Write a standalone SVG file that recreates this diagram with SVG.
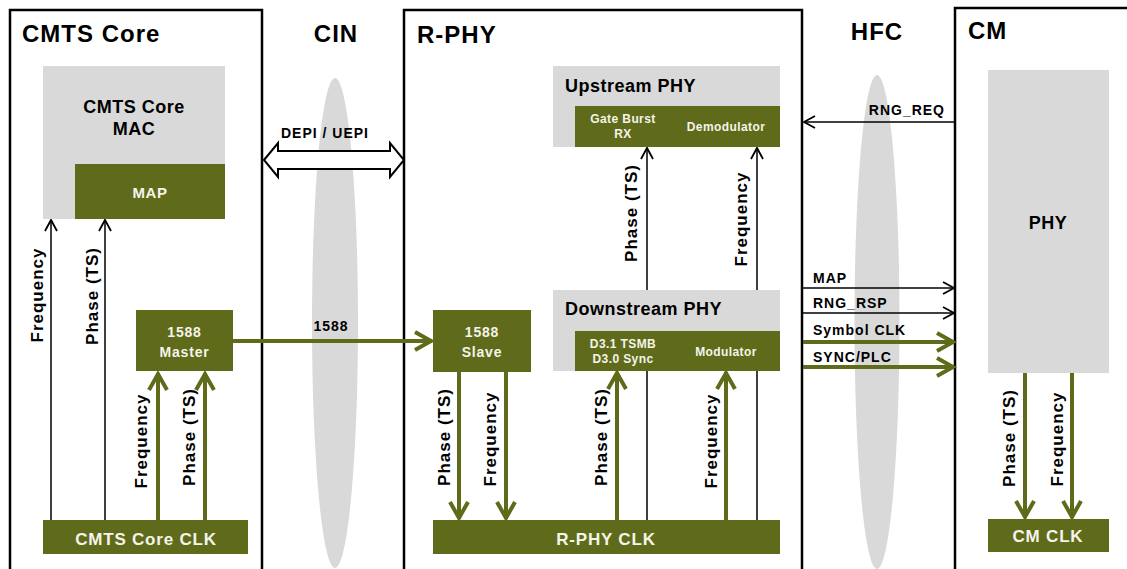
<svg xmlns="http://www.w3.org/2000/svg" width="1127" height="569" viewBox="0 0 1127 569">
<style>
  text { font-family: "Liberation Sans", Arial, sans-serif; font-weight: bold; }
  .title { font-size: 24px; fill: #000; letter-spacing: 1px; }
  .frame { fill: none; stroke: #000; stroke-width: 2.5; }
  .grey { fill: #d9d9d9; }
  .green { fill: #5f6b1a; }
  .wt { fill: #f4f4ea; text-anchor: middle; }
  .sub { font-size: 18px; fill: #000; letter-spacing: 0.5px; }
  .rot { font-size: 17px; fill: #000; letter-spacing: 1px; text-anchor: middle; }
  .lbl { font-size: 14px; fill: #000; letter-spacing: 1px; }
  .thin { stroke: #000; stroke-width: 1.5; fill: none; marker-end: url(#ah); }
  .thick { stroke: #5f6b1a; stroke-width: 4; fill: none; marker-end: url(#gh); }
</style>
<defs>
  <marker id="ah" markerUnits="userSpaceOnUse" viewBox="-13 -8 15 16" refX="0" refY="0" markerWidth="15" markerHeight="16" orient="auto" overflow="visible">
    <path d="M -11 -6 L 0 0 L -11 6" fill="none" stroke="#000" stroke-width="1.8"/>
  </marker>
  <marker id="gh" markerUnits="userSpaceOnUse" viewBox="-20 -11 22 22" refX="0" refY="0" markerWidth="22" markerHeight="22" orient="auto" overflow="visible">
    <path d="M -17 -9 L -1 0 L -17 9" fill="none" stroke="#5f6b1a" stroke-width="4"/>
  </marker>
</defs>

<rect width="1127" height="569" fill="#fff"/>

<!-- network clouds -->
<g id="cin-cloud"><ellipse cx="335" cy="323" rx="23" ry="245" class="grey"/></g>
<g id="hfc-cloud"><ellipse cx="877" cy="322" rx="22.5" ry="247" class="grey"/></g>

<!-- frames -->
<g id="cmts-core">
  <rect x="10" y="10" width="252" height="600" class="frame"/>
  <text x="22" y="42" class="title">CMTS Core</text>
</g>
<g id="cin"><text x="336" y="42" class="title" text-anchor="middle">CIN</text></g>
<g id="r-phy">
  <rect x="404" y="10" width="398" height="600" class="frame"/>
  <text x="417" y="43" class="title">R-PHY</text>
</g>
<g id="hfc"><text x="877" y="40" class="title" text-anchor="middle">HFC</text></g>
<g id="cm">
  <rect x="955" y="8" width="200" height="600" class="frame"/>
  <text x="968" y="39" class="title">CM</text>
</g>

<!-- connectors (drawn under boxes where they pass behind) -->
<g id="connectors">
  <line x1="51" y1="520" x2="51" y2="220" class="thin"/>
  <line x1="105" y1="520" x2="105" y2="220" class="thin"/>
  <line x1="158" y1="520" x2="158" y2="373" class="thick"/>
  <line x1="205" y1="520" x2="205" y2="373" class="thick"/>
  <line x1="233" y1="341" x2="432" y2="341" class="thick"/>
  <path d="M 264 160 L 278 143 L 278 151 L 390 151 L 390 143 L 404 160 L 390 177 L 390 169 L 278 169 L 278 177 Z" fill="#fff" stroke="#000" stroke-width="2"/>
  <line x1="459" y1="372" x2="459" y2="519" class="thick"/>
  <line x1="506" y1="372" x2="506" y2="519" class="thick"/>
  <line x1="647" y1="520" x2="647" y2="148" class="thin"/>
  <line x1="757" y1="520" x2="757" y2="148" class="thin"/>
  <line x1="617" y1="520" x2="617" y2="372" class="thick"/>
  <line x1="726" y1="520" x2="726" y2="372" class="thick"/>
  <line x1="955" y1="122" x2="804" y2="122" class="thin"/>
  <line x1="803" y1="288" x2="954" y2="288" class="thin"/>
  <line x1="803" y1="313" x2="954" y2="313" class="thin"/>
  <line x1="803" y1="342" x2="954" y2="342" class="thick"/>
  <line x1="803" y1="367" x2="954" y2="367" class="thick"/>
  <line x1="1025" y1="373" x2="1025" y2="518" class="thick"/>
  <line x1="1072" y1="373" x2="1072" y2="518" class="thick"/>

  <text x="325" y="138" class="lbl" text-anchor="middle" letter-spacing="0">DEPI / UEPI</text>
  <text x="331" y="331" class="lbl" text-anchor="middle" letter-spacing="0.5">1588</text>
  <text x="945" y="115" class="lbl" text-anchor="end">RNG_REQ</text>
  <text x="813" y="283" class="lbl">MAP</text>
  <text x="813" y="308" class="lbl">RNG_RSP</text>
  <text x="813" y="335" class="lbl">Symbol CLK</text>
  <text x="813" y="362" class="lbl">SYNC/PLC</text>

  <text transform="translate(43,295) rotate(-90)" class="rot">Frequency</text>
  <text transform="translate(98,296) rotate(-90)" class="rot">Phase (TS)</text>
  <text transform="translate(147,441) rotate(-90)" class="rot">Frequency</text>
  <text transform="translate(195,437) rotate(-90)" class="rot">Phase (TS)</text>
  <text transform="translate(637,213) rotate(-90)" class="rot">Phase (TS)</text>
  <text transform="translate(747,219) rotate(-90)" class="rot">Frequency</text>
  <text transform="translate(450,437) rotate(-90)" class="rot">Phase (TS)</text>
  <text transform="translate(496,439) rotate(-90)" class="rot">Frequency</text>
  <text transform="translate(607,437) rotate(-90)" class="rot">Phase (TS)</text>
  <text transform="translate(717,441) rotate(-90)" class="rot">Frequency</text>
  <text transform="translate(1015,438) rotate(-90)" class="rot">Phase (TS)</text>
  <text transform="translate(1063,439) rotate(-90)" class="rot">Frequency</text>
</g>

<!-- CMTS Core nodes -->
<g id="cmts-core-mac">
  <rect x="43" y="66" width="182" height="153" class="grey"/>
  <text x="134" y="113" class="sub" text-anchor="middle">CMTS Core</text>
  <text x="134" y="135" class="sub" text-anchor="middle">MAC</text>
</g>
<g id="map">
  <rect x="75" y="164" width="150" height="55" class="green"/>
  <text x="150" y="198" class="wt" font-size="15" letter-spacing="0.5">MAP</text>
</g>
<g id="master-1588">
  <rect x="136" y="310" width="97" height="61" class="green"/>
  <text x="184.5" y="337" class="wt" font-size="14" letter-spacing="0.8">1588</text>
  <text x="184.5" y="357" class="wt" font-size="14" letter-spacing="0.8">Master</text>
</g>
<g id="cmts-core-clk">
  <rect x="43" y="520" width="205" height="34" class="green"/>
  <text x="146" y="545" class="wt" font-size="17" letter-spacing="0.8">CMTS Core CLK</text>
</g>

<!-- R-PHY nodes -->
<g id="slave-1588">
  <rect x="433" y="310" width="98" height="62" class="green"/>
  <text x="482" y="337" class="wt" font-size="14" letter-spacing="0.8">1588</text>
  <text x="482" y="357" class="wt" font-size="14" letter-spacing="0.8">Slave</text>
</g>
<g id="upstream-phy">
  <rect x="553" y="66" width="227" height="81" class="grey"/>
  <text x="565" y="92" class="sub">Upstream PHY</text>
  <rect x="575" y="106" width="205" height="41" class="green"/>
  <text x="623" y="123" class="wt" font-size="12" letter-spacing="0.4">Gate Burst</text>
  <text x="623" y="138" class="wt" font-size="12" letter-spacing="0.4">RX</text>
  <text x="726" y="131" class="wt" font-size="12" letter-spacing="0.4">Demodulator</text>
</g>
<g id="downstream-phy">
  <rect x="553" y="290" width="227" height="81" class="grey"/>
  <text x="565" y="315" class="sub">Downstream PHY</text>
  <rect x="575" y="331" width="205" height="40" class="green"/>
  <text x="623" y="348" class="wt" font-size="12" letter-spacing="0.4">D3.1 TSMB</text>
  <text x="623" y="363" class="wt" font-size="12" letter-spacing="0.4">D3.0 Sync</text>
  <text x="726" y="356" class="wt" font-size="12" letter-spacing="0.4">Modulator</text>
</g>
<g id="r-phy-clk">
  <rect x="433" y="520" width="347" height="34" class="green"/>
  <text x="606" y="545" class="wt" font-size="17" letter-spacing="0.8">R-PHY CLK</text>
</g>

<!-- CM nodes -->
<g id="cm-phy">
  <rect x="988" y="70" width="121" height="303" class="grey"/>
  <text x="1048" y="229" class="sub" text-anchor="middle">PHY</text>
</g>
<g id="cm-clk">
  <rect x="988" y="519" width="121" height="33" class="green"/>
  <text x="1048" y="542" class="wt" font-size="17" letter-spacing="0.8">CM CLK</text>
</g>
</svg>
